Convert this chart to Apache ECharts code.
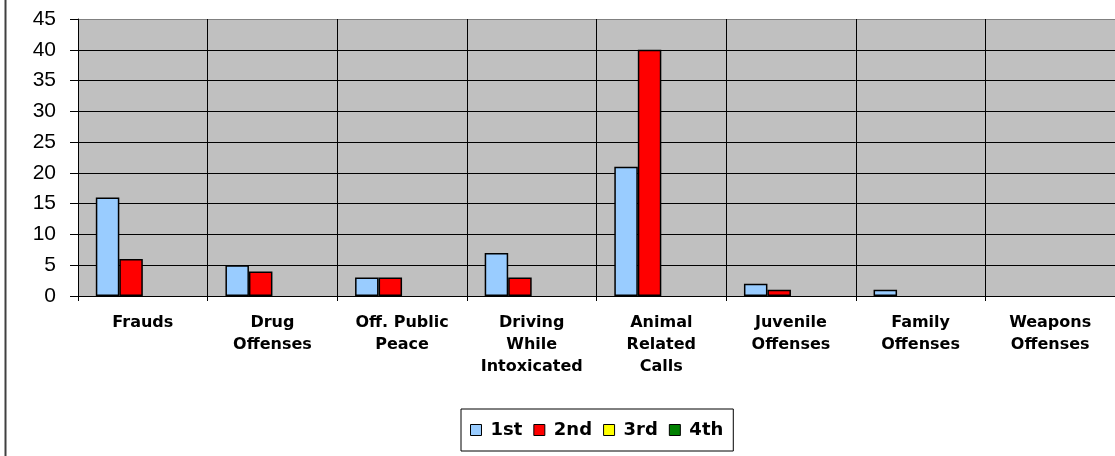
<!DOCTYPE html>
<html>
<head>
<meta charset="utf-8">
<script src="https://cdn.jsdelivr.net/npm/echarts@6/dist/echarts.min.js"></script>
<style>
html,body{margin:0;padding:0;background:#fff;}
#c{width:1115px;height:456px;}
</style>
</head>
<body>
<div id="c"></div>
<script>
const categories = ['Frauds', 'Drug\nOffenses', 'Off. Public\nPeace', 'Driving\nWhile\nIntoxicated', 'Animal\nRelated\nCalls', 'Juvenile\nOffenses', 'Family\nOffenses', 'Weapons\nOffenses'];
const seriesNames = ['1st', '2nd', '3rd', '4th'];
const first = [16, 5, 3, 7, 21, 2, 1, 0];
const second = [6, 4, 3, 3, 40, 1, 0, 0];
const third = [0, 0, 0, 0, 0, 0, 0, 0];
const fourth = [0, 0, 0, 0, 0, 0, 0, 0];
const yTicks = [0, 5, 10, 15, 20, 25, 30, 35, 40, 45];

const colors = ['#99CCFF', '#FF0000', '#FFFF00', '#008000'];
const values = [first, second, third, fourth];

const chart = echarts.init(document.getElementById('c'), null, {renderer: 'canvas'});
const splitColors = yTicks.map((v, i) => i === yTicks.length - 1 ? '#808080' : '#000000');

chart.setOption({
  animation: false,
  backgroundColor: '#ffffff',
  graphic: [{
    type: 'line',
    shape: {x1: 5.5, y1: 0, x2: 5.5, y2: 456},
    style: {stroke: '#404040', lineWidth: 2},
    silent: true
  }],
  grid: {
    left: 78, top: 19, width: 1040, height: 277,
    show: true, backgroundColor: '#C0C0C0', borderWidth: 0
  },
  legend: {
    left: 461, top: 409,
    padding: [12, 10, 12, 9],
    borderColor: '#000', borderWidth: 1,
    backgroundColor: '#fff',
    icon: 'rect',
    itemWidth: 11, itemHeight: 11,
    itemGap: 11,
    itemStyle: {borderColor: '#000', borderWidth: 1},
    textStyle: {fontFamily: 'DejaVu Sans', fontWeight: 'bold', fontSize: 18, color: '#000', padding: [0, 0, 0, 4]},
    data: seriesNames
  },
  xAxis: {
    type: 'category',
    data: categories,
    boundaryGap: true,
    axisLine: {show: true, lineStyle: {color: '#000', width: 1}},
    axisTick: {show: true, length: 5, lineStyle: {color: '#000'}},
    splitLine: {show: true, lineStyle: {color: '#000', width: 1}},
    axisLabel: {
      interval: 0, margin: 16,
      fontFamily: 'DejaVu Sans', fontWeight: 'bold', fontSize: 16,
      lineHeight: 22, color: '#000', align: 'center'
    }
  },
  yAxis: {
    type: 'value',
    min: 0, max: 45, interval: 5,
    axisLine: {show: true, lineStyle: {color: '#000', width: 1}},
    axisTick: {show: true, length: 8, lineStyle: {color: '#000'}},
    splitLine: {show: true, lineStyle: {color: splitColors, width: 1}},
    axisLabel: {
      margin: 22, fontFamily: 'Liberation Sans', fontSize: 21, color: '#000',
      padding: [0, 0, 4, 0]
    }
  },
  series: seriesNames.map((name, i) => ({
    name: name,
    type: 'bar',
    // zero-valued bars are not drawn in the reference
    data: values[i].map(v => (v === 0 ? '-' : v)),
    barWidth: 23.5,
    barGap: '0%',
    itemStyle: {color: colors[i], borderColor: '#000', borderWidth: 1.5}
  }))
});
</script>
</body>
</html>
